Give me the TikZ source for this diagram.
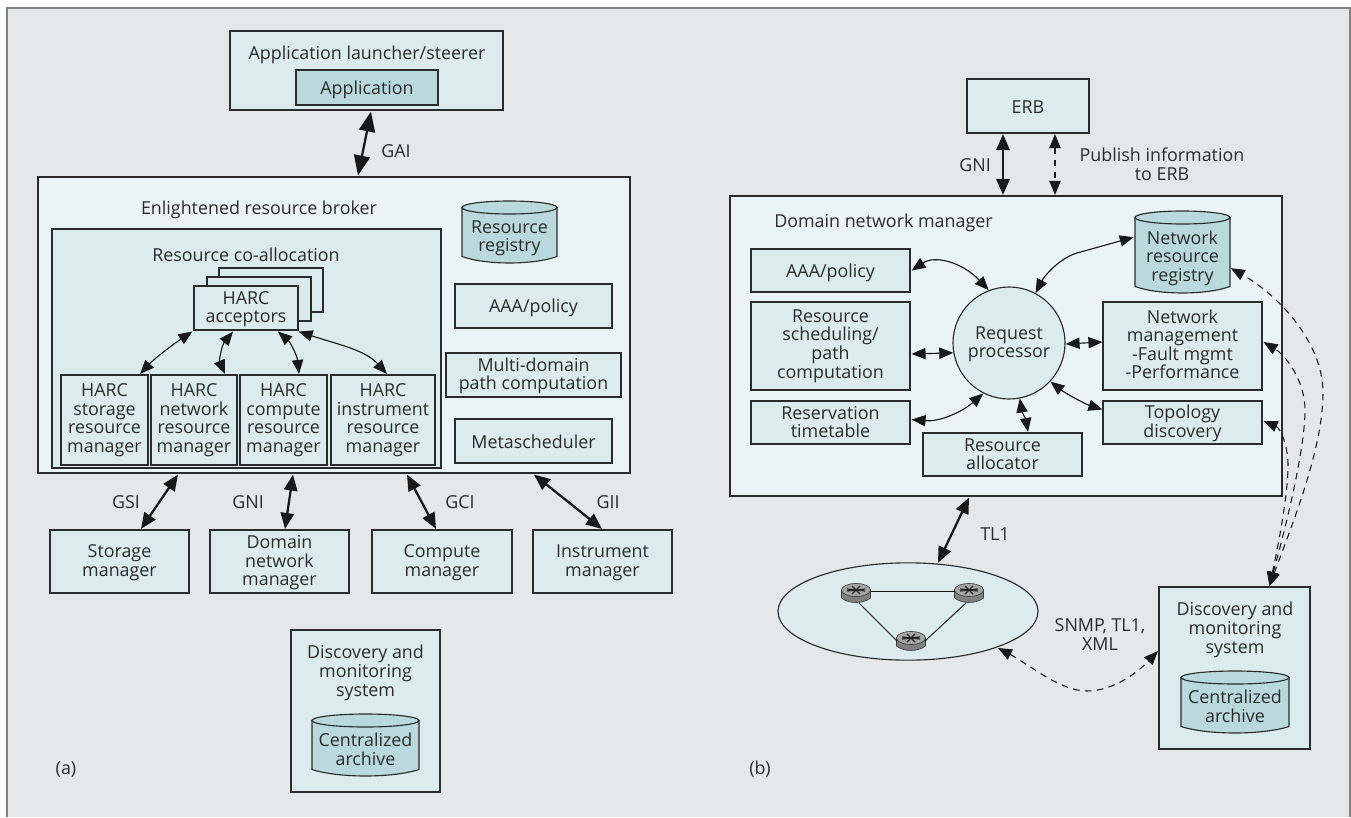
\documentclass[tikz,border=0pt]{standalone}
\usepackage{fontspec}
\setmainfont{Open Sans}
\usetikzlibrary{arrows.meta,calc,shapes.geometric}
\definecolor{bgc}{HTML}{E6E7E8}
\definecolor{lightc}{HTML}{DCEBEE}
\definecolor{paler}{HTML}{EAF4F6}
\definecolor{deepc}{HTML}{B9D9DC}
\definecolor{inkc}{HTML}{2B2B2B}
\definecolor{framec}{HTML}{808080}
\tikzset{
  txtstrut/.style={execute at begin node={\rule{0pt}{13.5pt}},execute at end node={\rule[-2.5pt]{0pt}{2.5pt}}},
  basebox/.style={draw=inkc,line width=0.85pt,inner sep=0pt,align=center,text=inkc,txtstrut},
  lightbox/.style={basebox,fill=lightc},
  palebox/.style={basebox,fill=paler},
  deepbox/.style={basebox,fill=deepc},
  lbl/.style={text=inkc,align=center,inner sep=0pt,txtstrut},
  thin arr/.style={draw=black!90,line width=0.85pt,{Triangle[length=10.5pt,width=8.5pt]}-{Triangle[length=10.5pt,width=8.5pt]}},
  thick arr/.style={draw=black!90,line width=1.7pt,{Triangle[length=12pt,width=10pt]}-{Triangle[length=12pt,width=10pt]}},
  big arr/.style={draw=black!90,line width=1.7pt,{Triangle[length=15pt,width=12pt]}-{Triangle[length=15pt,width=12pt]}},
  dash arr/.style={draw=black!90,line width=0.8pt,dash pattern=on 5pt off 4pt,{Triangle[length=10.5pt,width=8.5pt]}-{Triangle[length=10.5pt,width=8.5pt]}},
  link/.style={draw=black!90,line width=0.7pt},
  every node/.append style={font=\fontsize{13.4}{13.9}\selectfont},
}
\newcommand\mtx[1]{\rule{0pt}{11.5pt}#1\rule[-2.5pt]{0pt}{2.5pt}}
% [style]{name}{x1}{y1}{x2}{y2}{text}
\newcommand\bxn[7][lightbox]{\node[#1,minimum width={(#5-#3)*0.75pt},minimum height={(#6-#4)*0.75pt}] (#2) at ({(#3+#5)/2},{(#4+#6)/2}) {#7};}
\newcommand\bx[7][lightbox]{\bxn[#1]{#2}{#3}{#4}{#5}{#6}{\mtx{#7}}}
% {name}{x1}{y1}{x2}{y2}{e}{text}
\newcommand\cyl[7]{%
  \path[fill=deepc,draw=inkc,line width=0.85pt] (#2,{#3+#6}) -- (#2,{#5-#6})
    .. controls ({#2+0.25*(#4-#2)},{#5+#6*0.33}) and ({#4-0.25*(#4-#2)},{#5+#6*0.33}) .. (#4,{#5-#6})
    -- (#4,{#3+#6}) -- cycle;
  \path[fill=deepc,draw=inkc,line width=0.85pt] ({(#2+#4)/2},{#3+#6}) ellipse [x radius={(#4-#2)/2},y radius=#6];
  \node[lbl,minimum width={(#4-#2)*0.75pt},minimum height={(#5-#3)*0.75pt}] (#1) at ({(#2+#4)/2},{(#3+#5)/2+#6*0.8}) {\mtx{#7}};}
% {name}{cx}{cy}
\newcommand\router[3]{%
  \path[fill=black!50,draw=black!75,line width=0.5pt] ({#2-14.5},{#3-2}) -- ({#2-14.5},{#3+6})
    .. controls ({#2-7},{#3+12}) and ({#2+7},{#3+12}) .. ({#2+14.5},{#3+6}) -- ({#2+14.5},{#3-2}) -- cycle;
  \path[fill=black!35,draw=black!75,line width=0.5pt] (#2,{#3-2}) ellipse [x radius=14.5,y radius=6.5];
  \draw[black!85,line width=0.9pt] ({#2-9},{#3-3}) -- ({#2+9},{#3-1}) ({#2-9},{#3-1}) -- ({#2+9},{#3-3})
    ({#2-4},{#3-6}) -- ({#2+4},{#3+2}) ({#2+4},{#3-6}) -- ({#2-4},{#3+2});
  \node[inner sep=0pt,minimum width=21.75pt,minimum height=14pt] (#1) at (#2,#3) {};}
\begin{document}
\begin{tikzpicture}[x=0.75pt,y=-0.75pt]
\useasboundingbox (0,0) rectangle (1351,817);
\fill[white] (0,0) rectangle (1351,817);
\fill[bgc] (7,8) rectangle (1350,817);
\draw[framec,line width=1.3pt] (7,817) -- (7,8) -- (1350,8) -- (1350,817);

%% ---------- (a)
\bxn{launcher}{230}{31}{503}{110}{}
\node[lbl] (launchertxt) at (367,53) {Application launcher/steerer};
\bx[deepbox]{app}{296}{70}{438}{105}{Application}
\bxn[palebox]{erb}{38}{177}{630}{473}{}
\node[lbl] (erbtxt) at (259,208) {Enlightened resource broker};
\bxn{coalloc}{52}{229}{441}{468}{}
\node[lbl] (coalloctxt) at (246,254) {Resource co-allocation};
\bxn{accback}{219}{268}{323}{312}{}
\bxn{accmid}{207}{277}{311}{321}{}
\bx{acc}{194}{286}{298}{330}{HARC\\acceptors}
\bxn{hstorage}{61}{375}{148}{465}{HARC\\storage\\resource\\manager}
\bxn{hnetwork}{151}{375}{237}{465}{HARC\\network\\resource\\manager}
\bxn{hcompute}{240}{375}{327}{465}{HARC\\compute\\resource\\manager}
\bxn{hinstr}{331}{375}{435}{465}{HARC\\instrument\\resource\\manager}
\cyl{regA}{462}{201}{557}{263}{6.5}{Resource\\registry}
\bx{aaaA}{455}{284}{612}{328}{AAA/policy}
\bx{multi}{446}{353}{621}{397}{Multi-domain\\path computation}
\bx{meta}{455}{419}{612}{463}{Metascheduler}
\bx{storage}{50}{530}{189}{593}{Storage\\manager}
\bx{domain}{210}{530}{349}{593}{Domain\\network\\manager}
\bx{compute}{372}{530}{512}{593}{Compute\\manager}
\bx{instr}{533}{530}{672}{593}{Instrument\\manager}
\bxn{discA}{291}{630}{440}{792}{}
\node[lbl] (discAtxt) at (365.5,672) {\mtx{Discovery and\\monitoring\\system}};
\cyl{archA}{312}{714}{419}{776}{6.5}{Centralized\\archive}
\node[lbl] (la) at (66,767) {(a)};

\draw[big arr] ($(launcher.south)+(4.5,1)$) -- ($(erb.north)+(24,-1)$);
\node[lbl] (gai) at (396,150) {GAI};
\draw[thin arr] ($(hstorage.north)+(35.5,-0.5)$) .. controls (155,358) and (175,343) .. ($(acc.south west)+(-1,1)$);
\draw[thin arr] ($(hnetwork.north)+(31,-0.5)$) .. controls (219,360) and (222,345) .. ($(acc.south)+(-13,1)$);
\draw[thin arr] ($(hcompute.north)+(15.5,-0.5)$) .. controls (297,355) and (290,342) .. ($(acc.south)+(32,1)$);
\draw[thin arr] ($(hinstr.north)+(4,-0.5)$) .. controls (365,350) and (340,345) .. ($(acc.south east)+(0,1)$);
\draw[thick arr] ($(erb.south)+(-156,1)$) -- ($(storage.north)+(21.5,-0.5)$);
\draw[thick arr] ($(erb.south)+(-41,1)$) -- ($(domain.north)+(5.5,-0.5)$);
\draw[thick arr] ($(erb.south)+(73,1)$) -- ($(compute.north)+(-6,-0.5)$);
\draw[thick arr] ($(erb.south)+(200,1)$) -- ($(instr.north)+(-0.5,-0.5)$);
\node[lbl] (gsi) at (126,501) {GSI};
\node[lbl] (gni) at (248,501) {GNI};
\node[lbl] (gci) at (460,501) {GCI};
\node[lbl] (gii) at (608,501) {GII};

%% ---------- (b)
\bx{erbB}{967}{79}{1089}{133}{ERB}
\bxn[palebox]{dnm}{730}{196}{1282}{496}{}
\node[lbl,anchor=west] (dnmtxt) at (774,221) {Domain network manager};
\bx{aaaB}{751}{249}{910}{292}{AAA/policy}
\bxn{sched}{751}{302}{910}{390}{Resource\\scheduling/\\path\\computation}
\bx{ttable}{751}{401}{910}{444}{Reservation\\timetable}
\bx{alloc}{923}{433}{1082}{476}{Resource\\allocator}
\node[basebox,fill=lightc,circle,minimum size=84pt] (req) at (1009,343) {\mtx{Request\\processor}};
\cyl{regB}{1135}{211}{1230}{293}{6.5}{Network\\resource\\registry}
\bxn{mgmt}{1103}{302}{1262}{390}{Network\\management\\-Fault mgmt\\-Performance}
\bx{topo}{1103}{401}{1262}{444}{Topology\\discovery}
\node[draw=inkc,line width=0.85pt,fill=lightc,ellipse,inner sep=0pt,minimum width=195pt,minimum height=73pt] (ell) at (908,611.5) {};
\bxn{discB}{1159}{587}{1310}{749}{}
\node[lbl] (discBtxt) at (1235,629) {\mtx{Discovery and\\monitoring\\system}};
\cyl{archB}{1181}{671}{1289}{733}{6.5}{Centralized\\archive}
\node[lbl] (lb) at (760,767) {(b)};

\draw[thick arr] ($(erbB.south)+(-25,0.5)$) -- ($(dnm.north)+(-3,-0.5)$);
\draw[dash arr] ($(erbB.south)+(27,0.5)$) -- ($(dnm.north)+(49,-0.5)$);
\node[lbl] (gniB) at (975,164) {GNI};
\node[lbl] (pub) at (1162,165) {\mtx{Publish information\\to ERB}};
\draw[thin arr] ($(aaaB.east)+(1,0)$) .. controls (935,255) and (962,262) .. (req.111);
\draw[thin arr] ($(sched.east)+(1,8)$) -- (req.190);
\draw[thin arr] ($(ttable.east)+(1,-3)$) .. controls (940,422) and (962,412) .. (req.243);
\draw[thin arr] ($(alloc.north)+(25.5,-0.5)$) .. controls (1026,420) and (1022,412) .. (req.-79);
\draw[thin arr] (req.62) .. controls (1045,275) and (1060,258) .. (1077,253) -- ($(regB.west)+(-1,-20)$);
\draw[thin arr] (req.-1) -- ($(mgmt.west)+(0,-4)$);
\draw[thin arr] (req.-43) .. controls (1065,393) and (1085,404) .. ($(topo.west)+(0,-13)$);

\draw[thick arr] ($(dnm.south)+(-37,1)$) -- ($(ell.north)+(30,0.5)$);
\node[lbl] (tl1) at (995,533) {TL1};

\router{r1}{856}{592}
\router{r2}{969}{592}
\router{r3}{911}{640}
\draw[link] ($(r1)+(14.5,-1)$) -- ($(r2)+(-14.5,-1)$);
\draw[link] ($(r1)+(3,11)$) -- ($(r3)+(-14,1)$);
\draw[link] ($(r2)+(-3,11)$) -- ($(r3)+(14,1)$);
\node[lbl] (snmp) at (1100,635) {\mtx{SNMP, TL1,\\XML}};
\draw[dash arr] ($(ell)+(90,36.5)$) .. controls (1030,665) and (1060,691) .. (1087,691) .. controls (1115,691) and (1140,670) .. ($(discB.west)+(-0.5,-17)$);

\draw[dash arr] ($(discB.north)+(35,-0.5)$) .. controls (1290,530) and (1323,450) .. (1323,393) .. controls (1323,340) and (1275,293) .. ($(regB.east)+(0.5,11)$);
\draw[dash arr] ($(discB.north)+(35,-0.5)$) .. controls (1285,530) and (1305,450) .. (1305,410) .. controls (1305,380) and (1285,355) .. ($(mgmt.east)+(1,-4)$);
\draw[dash arr] ($(discB.north)+(35,-0.5)$) .. controls (1275,560) and (1288,500) .. (1288,465) .. controls (1288,445) and (1280,428) .. ($(topo.east)+(1,-1.5)$);
\end{tikzpicture}
\end{document}
